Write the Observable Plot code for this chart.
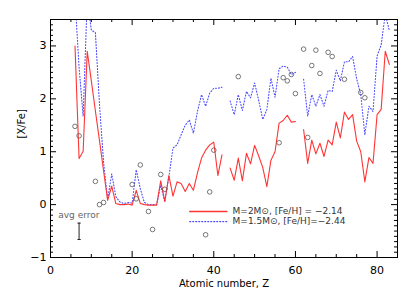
<!DOCTYPE html>
<html>
<head>
<meta charset="utf-8">
<script src="https://cdn.jsdelivr.net/npm/d3@7"></script>
<script src="https://cdn.jsdelivr.net/npm/@observablehq/plot@0.6"></script>
<style>
  html, body { margin: 0; padding: 0; background: white; }
</style>
</head>
<body>
<div id="chart"></div>
<script>
// Atomic numbers for model predictions
const Z = [6,7,8,9,10,11,12,13,14,15,16,17,18,19,20,21,22,23,24,25,26,27,28,29,30,
  31,32,33,34,35,36,37,38,39,40,41,42,43,44,45,46,47,48,49,50,51,52,53,54,55,56,57,58,59,60,
  61,62,63,64,65,66,67,68,69,70,71,72,73,74,75,76,77,78,79,80,81,82,83];

// M=2 Msun, [Fe/H] = -2.14 (red, solid)
const redXFe = [3.0,0.87,1.01,2.9,2.34,1.77,1.21,0.64,0.08,0.35,0.02,0.0,0.0,0.01,-0.01,0.27,0.02,0.0,-0.01,-0.01,-0.01,
  0.45,0.06,0.55,0.16,0.43,0.40,0.25,0.40,0.27,0.60,0.88,1.03,1.13,1.18,0.55,0.94,null,0.69,0.46,0.88,0.45,0.97,0.77,
  1.12,0.92,0.70,0.34,0.84,1.00,1.54,1.59,1.69,1.56,1.57,null,1.42,0.78,1.22,0.96,1.16,0.91,1.22,1.13,1.56,1.26,
  1.75,1.61,1.70,1.20,1.00,0.43,0.89,0.78,1.70,1.80,2.90,2.65];

// M=1.5 Msun, [Fe/H] = -2.44 (blue, dotted)
const blueXFe = [3.9,2.6,1.67,3.9,3.3,3.25,1.9,0.8,0.1,0.58,0.15,0.05,0.02,0.04,0.03,0.66,0.30,0.04,0.0,0.0,0.0,
  0.37,0.05,0.53,1.07,1.13,1.32,1.50,1.60,1.35,1.76,2.08,1.86,2.11,2.20,2.20,2.22,null,1.96,1.70,2.08,1.78,2.14,2.02,
  2.30,1.97,1.61,1.80,2.39,2.03,2.57,2.62,2.60,2.46,2.50,null,2.37,1.67,2.08,1.86,2.08,1.86,2.16,2.14,2.54,2.34,
  2.70,2.70,2.80,2.38,2.08,1.32,1.86,1.76,2.81,3.02,3.60,3.29];

// Observed abundances (open circles)
const obsZ   = [6,7,11,12,13,20,21,22,24,25,27,28,38,39,40,46,56,57,58,59,60,62,63,64,65,66,68,69,72,76,77];
const obsXFe = [1.48,1.30,0.44,0.0,0.04,0.38,0.11,0.75,-0.13,-0.47,0.57,0.29,-0.57,0.24,1.03,2.42,1.17,2.40,2.34,2.46,2.10,
  2.94,1.27,2.63,2.92,2.48,2.88,2.80,2.37,2.12,2.02];

// Average error bar
const avgErrZ = [7];
const avgErrCenter = [-0.505];
const avgErrHalf = [0.155];

// Tick labels
const xTickLabels = [0,20,40,60,80];
const yTickLabels = [-1,0,1,2,3];
const legendLabels = ["M=2M\u2299, [Fe/H] = \u22122.14", "M=1.5M\u2299, [Fe/H]=\u22122.44"];
const legendColors = ["#ff3535", "#4b4bff"];
const legendDash = ["none", "1,2"];

const W = 415, H = 297;
const mL = 50, mR = 18, mT = 19, mB = 40;
const fw = W - mL - mR, fh = H - mT - mB;

const red = legendColors[0], blue = legendColors[1];

const xMajor = [0,20,40,60,80];
const xMinor = d3.range(0, 86, 5).filter(v => v % 20 !== 0);
const yMajor = [-1,0,1,2,3];
const yMinor = d3.range(-10, 36, 1).map(v => v / 10).filter(v => Math.abs(v - Math.round(v)) > 1e-6);

const redData = Z.map((z, i) => ({z, v: redXFe[i]}));
const blueData = Z.map((z, i) => ({z, v: blueXFe[i]}));
const obsData = obsZ.map((z, i) => ({z, v: obsXFe[i]}));
const errData = avgErrZ.map((z, i) => ({z, c: avgErrCenter[i], h: avgErrHalf[i]}));

// legend rows placed in data space (inside the plot box)
const legendRowY = [-0.13, -0.32];
const legendLineData = legendLabels.flatMap((l, i) => [
  {k: i, x: 34.1, y: legendRowY[i]}, {k: i, x: 43.2, y: legendRowY[i]}
]);

const fmt = d => d < 0 ? "\u2212" + Math.abs(d) : String(d);

const chart = Plot.plot({
  width: W, height: H,
  marginLeft: mL, marginRight: mR, marginTop: mT, marginBottom: mB,
  x: {domain: [0, 85], axis: null},
  y: {domain: [-1, 3.5], axis: null},
  style: {fontFamily: "DejaVu Sans", fontSize: "11px", background: "white", color: "black"},
  marks: [
    // model lines
    Plot.line(blueData, {x: "z", y: "v", stroke: blue, strokeWidth: 1.1, strokeDasharray: "1,2", clip: true}),
    Plot.line(redData, {x: "z", y: "v", stroke: red, strokeWidth: 1.1, clip: true}),
    // observations
    Plot.dot(obsData, {x: "z", y: "v", r: 2.3, stroke: "#555", strokeWidth: 0.8, fill: "none"}),
    // avg error
    Plot.ruleX(errData, {x: "z", y1: d => d.c - d.h, y2: d => d.c + d.h, stroke: "#222", strokeWidth: 1}),
    Plot.link(errData, {x1: d => d.z - 0.4, x2: d => d.z + 0.4, y1: d => d.c - d.h, y2: d => d.c - d.h, stroke: "#222"}),
    Plot.link(errData, {x1: d => d.z - 0.4, x2: d => d.z + 0.4, y1: d => d.c + d.h, y2: d => d.c + d.h, stroke: "#222"}),
    Plot.text(["avg error"], {x: 1.9, y: -0.2, textAnchor: "start", lineAnchor: "middle", fontSize: 9, fill: "#666"}),
    // legend
    Plot.line(legendLineData.filter(d => d.k === 0), {x: "x", y: "y", stroke: red, strokeWidth: 1.4}),
    Plot.line(legendLineData.filter(d => d.k === 1), {x: "x", y: "y", stroke: blue, strokeWidth: 1.2, strokeDasharray: "1,2"}),
    Plot.text(legendLabels, {x: 44.6, y: (d, i) => legendRowY[i], textAnchor: "start", lineAnchor: "middle", fontSize: 9, fill: "#333"}),
    // frame & ticks (inward, all four sides)
    Plot.frame({stroke: "black"}),
    Plot.tickX(xMajor, {x: d => d, insetTop: fh - 6, stroke: "black"}),
    Plot.tickX(xMajor, {x: d => d, insetBottom: fh - 6, stroke: "black"}),
    Plot.tickX(xMinor, {x: d => d, insetTop: fh - 3, stroke: "black"}),
    Plot.tickX(xMinor, {x: d => d, insetBottom: fh - 3, stroke: "black"}),
    Plot.tickY(yMajor, {y: d => d, insetRight: fw - 6, stroke: "black"}),
    Plot.tickY(yMajor, {y: d => d, insetLeft: fw - 6, stroke: "black"}),
    Plot.tickY(yMinor, {y: d => d, insetRight: fw - 3, stroke: "black"}),
    Plot.tickY(yMinor, {y: d => d, insetLeft: fw - 3, stroke: "black"}),
    // tick labels
    Plot.text(xTickLabels, {x: d => d, frameAnchor: "bottom", dy: 13, lineAnchor: "middle", text: fmt, fontSize: 11}),
    Plot.text(yTickLabels, {y: d => d, frameAnchor: "left", dx: -4, textAnchor: "end", lineAnchor: "middle", text: fmt, fontSize: 11}),
    // axis titles
    Plot.text(["Atomic number, Z"], {frameAnchor: "bottom", dy: 26, lineAnchor: "middle", fontSize: 10}),
    Plot.text(["[X/Fe]"], {frameAnchor: "left", dx: -29, rotate: -90, lineAnchor: "middle", fontSize: 10})
  ]
});
document.getElementById("chart").appendChild(chart);
</script>
</body>
</html>
